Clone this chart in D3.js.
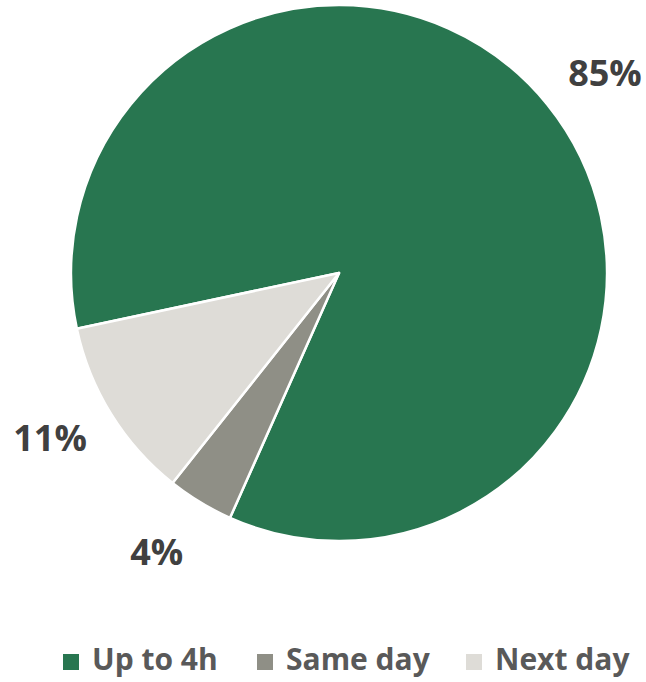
<!DOCTYPE html>
<html>
<head>
<meta charset="utf-8">
<script src="https://cdn.jsdelivr.net/npm/d3@7"></script>
<style>
  html, body { margin: 0; padding: 0; background: #fff; }
  svg { display: block; }
  text { font-family: "Open Sans", "Liberation Sans", sans-serif; font-weight: 700; }
</style>
</head>
<body>
<div id="chart"></div>
<script>
// Delivery time shares
const categories = ["Up to 4h", "Same day", "Next day"];
const values = [85, 4, 11];
const valueLabels = ["85%", "4%", "11%"];
const colors = ["#287650", "#8f8f86", "#dedcd7"];

const width = 646, height = 682;
const cx = 339, cy = 273, radius = 268;
const startDeg = 258; // first slice begins left of centre

const svg = d3.select("#chart").append("svg")
  .attr("width", width).attr("height", height);

const data = categories.map((c, i) => ({ category: c, value: values[i], label: valueLabels[i], color: colors[i] }));

const pie = d3.pie()
  .value(d => d.value)
  .sort(null)
  .startAngle(startDeg * Math.PI / 180)
  .endAngle((startDeg + 360) * Math.PI / 180);

const arc = d3.arc().innerRadius(0).outerRadius(radius);

const g = svg.append("g").attr("transform", `translate(${cx},${cy})`);
const arcs = pie(data);

g.selectAll("path.slice")
  .data(arcs)
  .join("path")
  .attr("class", "slice")
  .attr("d", arc)
  .attr("fill", d => d.data.color)
  .attr("stroke", "#ffffff")
  .attr("stroke-width", 2.5)
  .attr("stroke-linejoin", "round");

// Value labels sit outside the rim, nudged a little clockwise
const labelR = 333, labelShift = 2 * Math.PI / 180, labelSize = 36;
g.selectAll("text.value")
  .data(arcs)
  .join("text")
  .attr("class", "value")
  .attr("x", d => labelR * Math.sin((d.startAngle + d.endAngle) / 2 + labelShift))
  .attr("y", d => -labelR * Math.cos((d.startAngle + d.endAngle) / 2 + labelShift) + labelSize * 0.36)
  .attr("text-anchor", "middle")
  .attr("font-size", labelSize)
  .attr("fill", "#404040")
  .text(d => d.data.label);

// Legend along the bottom
const legendX = [63, 257, 466];
const legend = svg.append("g").attr("transform", "translate(0,670)");
const items = legend.selectAll("g.item")
  .data(data)
  .join("g")
  .attr("class", "item")
  .attr("transform", (d, i) => `translate(${legendX[i]},0)`);

items.append("rect")
  .attr("x", 0).attr("y", -16)
  .attr("width", 16).attr("height", 16)
  .attr("fill", d => d.color);

items.append("text")
  .attr("x", 29)
  .attr("y", 0)
  .attr("font-size", 30)
  .attr("fill", "#595959")
  .text(d => d.category);
</script>
</body>
</html>
